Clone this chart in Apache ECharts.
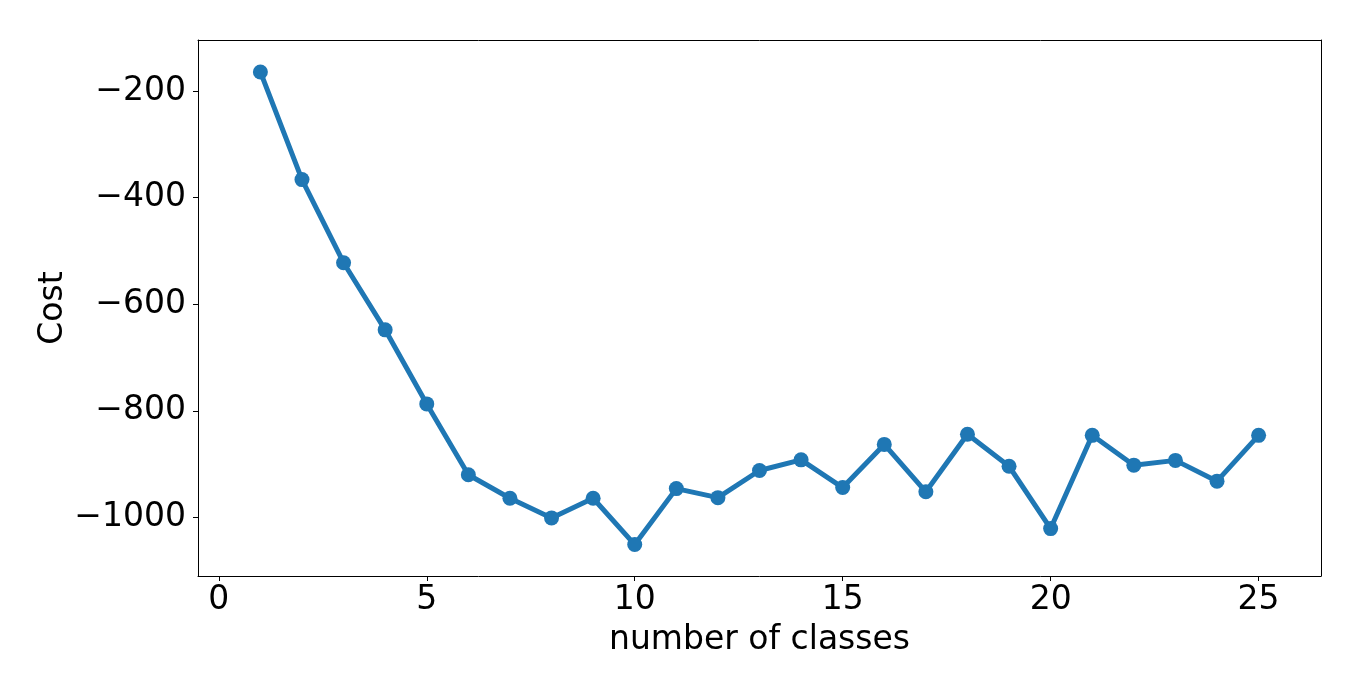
<!DOCTYPE html>
<html>
<head>
<meta charset="utf-8">
<script src="https://cdn.jsdelivr.net/npm/echarts@6/dist/echarts.min.js"></script>
<style>html,body{margin:0;padding:0;background:#fff}#c{width:1360px;height:693px}</style>
</head>
<body>
<div id="c"></div>
<script>
const classes = [1,2,3,4,5,6,7,8,9,10,11,12,13,14,15,16,17,18,19,20,21,22,23,24,25];
const cost = [-164,-366,-522,-648,-787,-920,-964,-1001,-964,-1051,-946,-963,-912,-892,-944,-863,-952,-844,-904,-1021,-846,-902,-893,-932,-846];
const xTicks = [0,5,10,15,20,25];
const yTicks = [-1000,-800,-600,-400,-200];

const font = 'DejaVu Sans';
const fs = 33;
const minus = v => String(v).replace('-', '\u2212');
const frame = {show: true, onZero: false, lineStyle: {color: '#000', width: 1}};
const chart = echarts.init(document.getElementById('c'));
chart.setOption({
  animation: false,
  grid: {left: 198, right: 39, top: 40, bottom: 117, containLabel: false, outerBoundsMode: 'none'},
  xAxis: [{
    type: 'value', min: -0.5, max: 26.5, position: 'bottom',
    name: 'number of classes', nameLocation: 'middle', nameGap: 48, nameMoveOverlap: false,
    nameTextStyle: {fontFamily: font, fontSize: fs, color: '#000'},
    axisLine: frame,
    axisTick: {show: true, length: 5, inside: false, customValues: xTicks, lineStyle: {color: '#000'}},
    axisLabel: {customValues: xTicks, fontFamily: font, fontSize: fs, color: '#000', margin: 8, formatter: minus},
    splitLine: {show: false}
  }, {
    type: 'value', min: -0.5, max: 26.5, position: 'top',
    axisLine: frame, axisTick: {show: false}, axisLabel: {show: false}, splitLine: {show: false}
  }],
  yAxis: [{
    type: 'value', min: -1110, max: -104, position: 'left',
    name: 'Cost', nameLocation: 'middle', nameGap: 128, nameRotate: 90, nameMoveOverlap: false,
    nameTextStyle: {fontFamily: font, fontSize: fs, color: '#000'},
    axisLine: frame,
    axisTick: {show: true, length: 5, inside: false, customValues: yTicks, lineStyle: {color: '#000'}},
    axisLabel: {customValues: yTicks, fontFamily: font, fontSize: fs, color: '#000', margin: 12, formatter: minus},
    splitLine: {show: false}
  }, {
    type: 'value', min: -1110, max: -104, position: 'right',
    axisLine: frame, axisTick: {show: false}, axisLabel: {show: false}, splitLine: {show: false}
  }],
  series: [{
    type: 'line',
    xAxisIndex: 0, yAxisIndex: 0,
    data: classes.map((c, i) => [c, cost[i]]),
    symbol: 'circle', symbolSize: 15,
    lineStyle: {color: '#1f77b4', width: 5},
    itemStyle: {color: '#1f77b4'}
  }]
});
</script>
</body>
</html>
